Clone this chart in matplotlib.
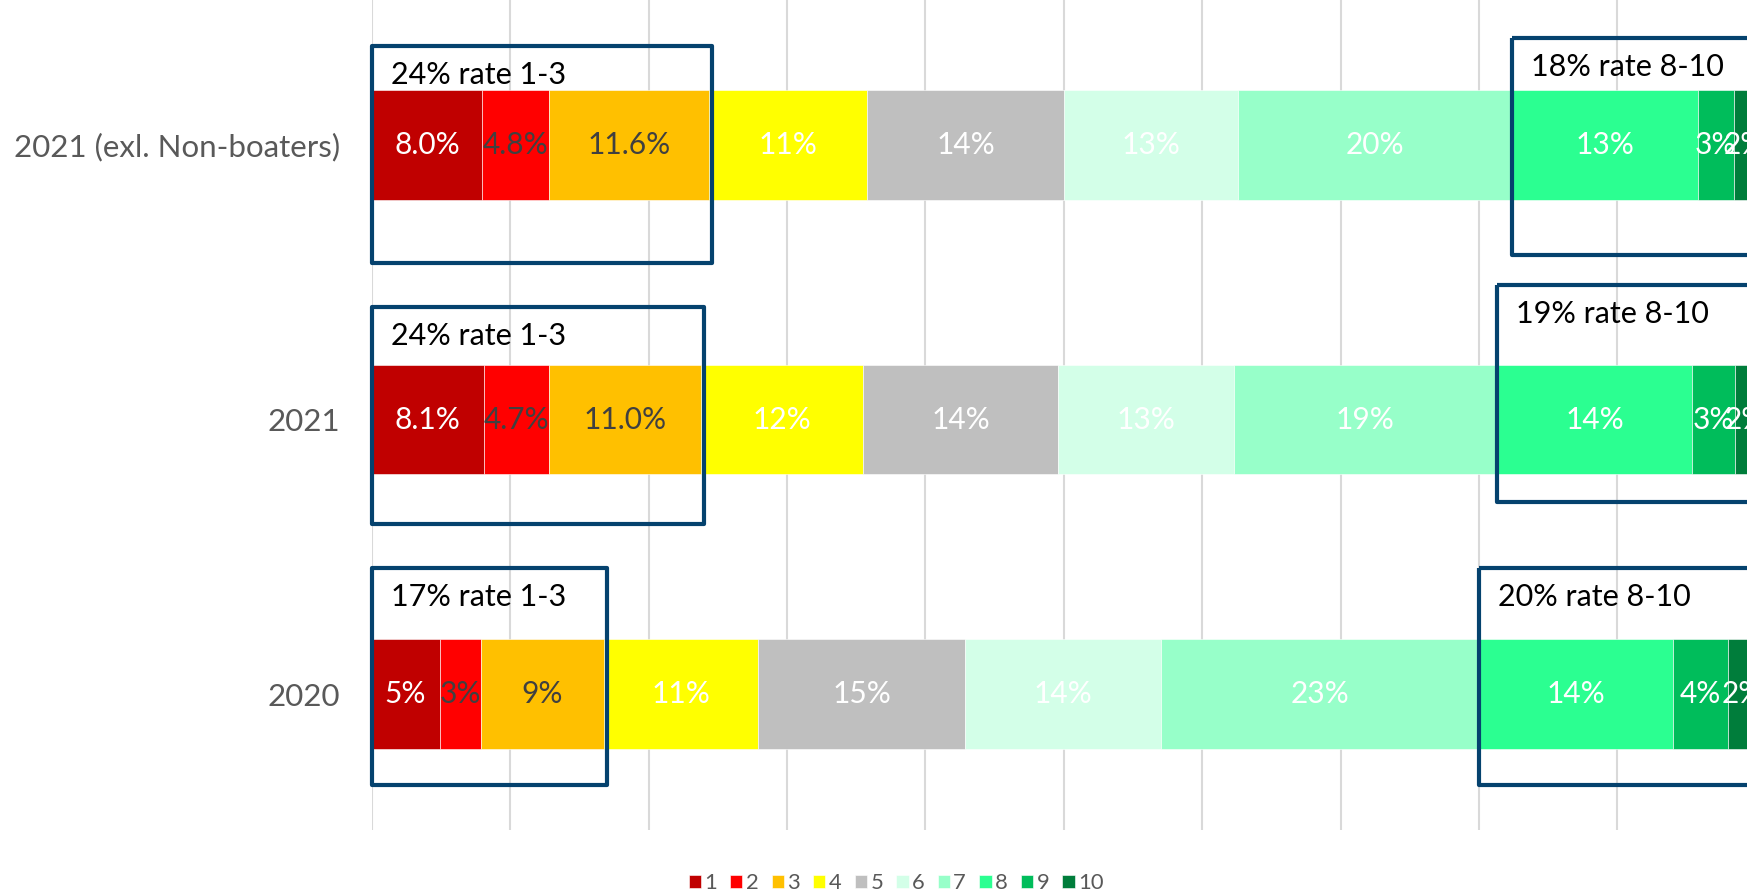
import numpy as np
import matplotlib.pyplot as plt
from matplotlib.patches import Rectangle

plt.rcParams['font.family'] = ['Lato', 'DejaVu Sans']

# data (percent of respondents per rating)
years = ['2021 (exl. Non-boaters)', '2021', '2020']
ratings = ['1', '2', '3', '4', '5', '6', '7', '8', '9', '10']
share_2021_excl = [8.0, 4.8, 11.6, 11.4, 14.2, 12.6, 19.8, 13.4, 2.6, 1.6]
share_2021 = [8.1, 4.7, 11.0, 11.7, 14.1, 12.7, 19.0, 14.1, 3.1, 1.5]
share_2020 = [4.9, 3.0, 8.9, 11.1, 15.0, 14.1, 23.0, 14.0, 4.0, 2.0]
# rows whose low ratings (1-3) are printed with one decimal
one_decimal = [True, True, False]

colors = ['#C00000', '#FF0000', '#FFC000', '#FFFF00', '#BFBFBF',
          '#D3FFE8', '#97FFC9', '#2BFF91', '#00BD5B', '#007D3B']
label_colors = ['white', '#404040', '#404040'] + ['white'] * 7
box_color = '#05426E'

# box layout (row units, relative to bar centre)
box_top_left = [-0.36, -0.41, -0.46]
box_top_right = [-0.39, -0.49, -0.46]
box_height = 0.79

W, H = 1747, 892
fig = plt.figure(figsize=(W / 100, H / 100), dpi=100)
ax = fig.add_axes([371.7 / W, 62 / H, 1384 / W, 830 / H])

data = np.array([share_2021_excl, share_2021, share_2020])
y = np.arange(len(years))
left = np.zeros(len(years))
handles = []
for i, r in enumerate(ratings):
    b = ax.barh(y, data[:, i], left=left, height=0.4, color=colors[i],
                edgecolor='white', linewidth=0.4, label=r, zorder=2)
    handles.append(b)
    for j in range(len(years)):
        v = data[j, i]
        if one_decimal[j] and i < 3:
            txt = f'{v:.1f}%'
        else:
            txt = f'{v:.0f}%'
        ax.text(left[j] + v / 2, y[j], txt, ha='center', va='center',
                color=label_colors[i], fontsize=21.5, zorder=5)
    left += data[:, i]

# boxes around ratings 1-3 and 8-10
cum = np.cumsum(data, axis=1)
for j in range(len(years)):
    low = data[j, :3].sum()
    high = data[j, 7:].sum()
    x_low_end = cum[j, 2] + 0.2
    top = y[j] + box_top_left[j]
    ax.add_patch(Rectangle((0, top), x_low_end, box_height, fill=False,
                           edgecolor=box_color, linewidth=3, joinstyle='round',
                           zorder=4, clip_on=False))
    ax.annotate(f'{low:.0f}% rate 1-3', xy=(0, top), xytext=(19, -29),
                textcoords='offset pixels', va='center', ha='left',
                fontsize=22, color='black', zorder=6)
    x_high = cum[j, 6]
    top = y[j] + box_top_right[j]
    ax.add_patch(Rectangle((x_high, top), 110 - x_high, box_height, fill=False,
                           edgecolor=box_color, linewidth=3, joinstyle='round',
                           zorder=4))
    ax.annotate(f'{high:.0f}% rate 8-10', xy=(x_high, top), xytext=(19, -29),
                textcoords='offset pixels', va='center', ha='left',
                fontsize=22, color='black', zorder=6)

ax.set_xlim(0, 100)
ax.set_ylim(2.495, -0.528)
ax.set_xticks(range(0, 101, 10))
ax.tick_params(axis='x', length=0, labelbottom=False)
ax.set_yticks(y, years)
ax.tick_params(axis='y', length=0, pad=23, labelsize=22.5, labelcolor='#595959')
ax.grid(axis='x', color='#D9D9D9', linewidth=1.5)
ax.set_axisbelow(True)
for s in ax.spines.values():
    s.set_visible(False)

fig.legend(handles=handles, loc='center', bbox_to_anchor=(896 / W, 9 / H),
           ncol=10, frameon=False, fontsize=15.8, handlelength=0.56,
           handleheight=0.56, handletextpad=0.15, columnspacing=0.6,
           labelcolor='#595959')

fig.savefig('out.png', dpi=100)
